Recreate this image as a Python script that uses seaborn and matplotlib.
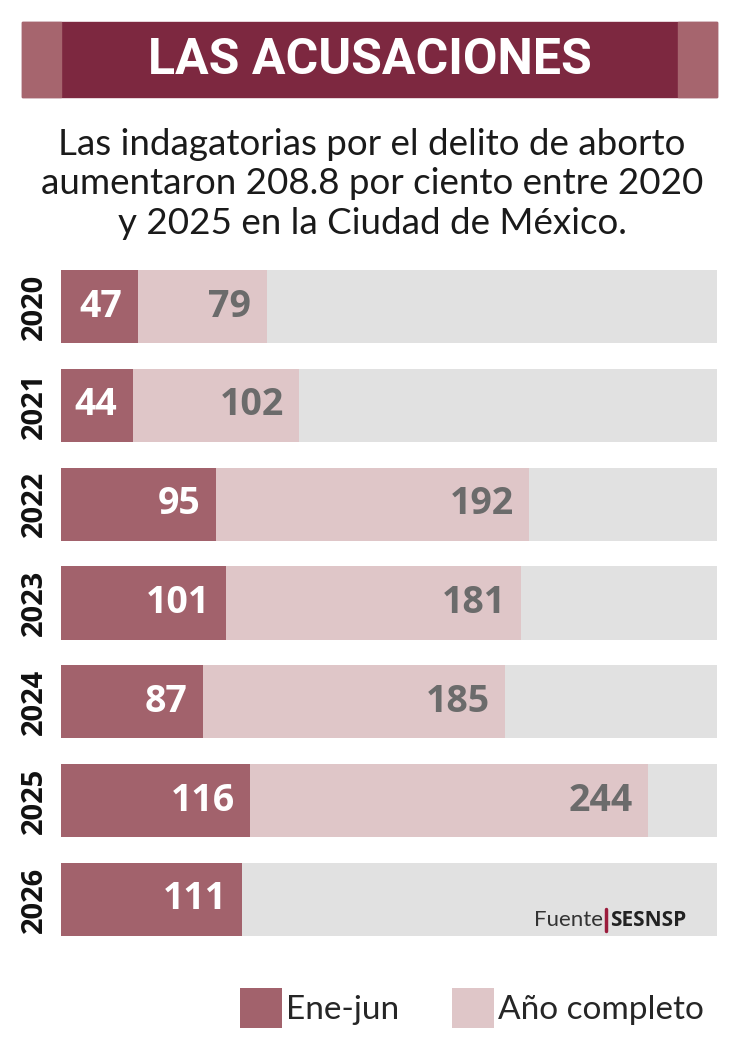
import matplotlib
matplotlib.use("Agg")
import matplotlib.pyplot as plt
from matplotlib.patches import Rectangle, Patch
from matplotlib.lines import Line2D
import seaborn as sns
import pandas as pd

# ── datos ───────────────────────────────────────────────────────────────────
years   = ["2020", "2021", "2022", "2023", "2024", "2025", "2026"]
ene_jun = [47, 44, 95, 101, 87, 116, 111]
anio    = [79, 102, 192, 181, 185, 244, None]
x_max   = 402

title    = "LAS ACUSACIONES"
subtitle = ("Las indagatorias por el delito de aborto\n"
            "aumentaron 208.8 por ciento entre 2020\n"
            "y 2025 en la Ciudad de México.")
legend_labels = ["Ene-jun", "Año completo"]

# ── colores ─────────────────────────────────────────────────────────────────
C_DARK  = "#a2626c"
C_LIGHT = "#dfc6c8"
C_GRAY  = "#e1e1e1"
C_BAN   = "#7d2840"
C_TAB   = "#a6656e"

sns.set_theme(style="white")
plt.rcParams["font.family"] = ["Lato", "DejaVu Sans"]

W, H = 750, 1048
fig = plt.figure(figsize=(W / 100, H / 100), dpi=100)

def fx(px): return px / W
def fy(py): return 1 - py / H

# banner
fig.patches.append(Rectangle((fx(22), fy(97)), fx(695), 75 / H, transform=fig.transFigure,
                             color=C_BAN, zorder=0))
for x0 in (22, 678):
    fig.patches.append(Rectangle((fx(x0), fy(97)), fx(39), 75 / H, transform=fig.transFigure,
                                 color=C_TAB, zorder=1))
fig.text(fx(370), fy(61), title, color="white", fontsize=36, fontweight="bold",
         family=["Liberation Sans Narrow", "Roboto", "DejaVu Sans"], ha="center", va="center")
fig.text(fx(372), fy(184), subtitle, color="#1a1a1a", fontsize=26.5, ha="center", va="center",
         linespacing=1.25)

# ── barras ──────────────────────────────────────────────────────────────────
df = pd.DataFrame({"year": years, "ene": ene_jun, "anio": anio})
df["total"] = df["ene"] + df["anio"]
df["fondo"] = x_max

ax = fig.add_axes([fx(61), fy(936), fx(656), 666 / H])
for col, c in (("fondo", C_GRAY), ("total", C_LIGHT), ("ene", C_DARK)):
    sns.barplot(data=df, y="year", x=col, color=c, width=0.74, orient="h",
                saturation=1, linewidth=0, ax=ax)

for i, row in df.iterrows():
    ax.annotate(f"{row.ene}", (row.ene, i), xytext=(-11, 0), textcoords="offset points",
                ha="right", va="center", color="white", fontsize=27, fontweight="bold",
                family=["Open Sans", "DejaVu Sans"])
    if pd.notna(row.total):
        ax.annotate(f"{int(row.anio)}", (row.total, i), xytext=(-11, 0),
                    textcoords="offset points", ha="right", va="center", color="#6b6b6b",
                    fontsize=27, fontweight="bold", family=["Open Sans", "DejaVu Sans"])

ax.set_xlim(0, x_max)
ax.set_ylim(6.37, -0.37)
ax.set_xlabel(""); ax.set_ylabel("")
ax.set_xticks([])
for lbl in ax.get_yticklabels():
    lbl.set_rotation(90)
    lbl.set_va("center")
    lbl.set_fontweight("bold")
    lbl.set_fontsize(21)
    lbl.set_family(["Open Sans", "DejaVu Sans"])
    lbl.set_color("#111111")
ax.tick_params(axis="y", length=0, pad=9)
sns.despine(ax=ax, left=True, bottom=True)

# fuente
fig.text(fx(603), fy(920), "Fuente", fontsize=16, color="#333333", ha="right", va="center")
fig.add_artist(Line2D([fx(606), fx(606)], [fy(909), fy(931)], color="#9b1c3c", lw=2.5,
                      transform=fig.transFigure))
fig.text(fx(610), fy(920), "SESNSP", fontsize=15, color="#222222", ha="left", va="center",
         fontweight="bold", family=["Open Sans", "DejaVu Sans"])

# leyenda
handles = [Patch(facecolor=C_DARK, edgecolor="none"), Patch(facecolor=C_LIGHT, edgecolor="none")]
fig.legend(handles, legend_labels, loc="center", bbox_to_anchor=(fx(472), fy(1008)), ncol=2,
           frameon=False, fontsize=24, handlelength=1.25, handleheight=1.45,
           handletextpad=0.12, columnspacing=1.6)

fig.savefig("out.png", dpi=100)
